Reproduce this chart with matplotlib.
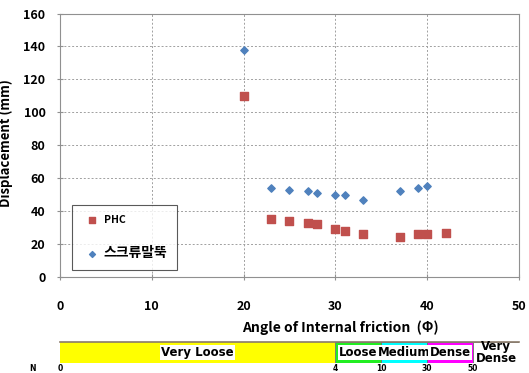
import matplotlib
matplotlib.use("Agg")
import matplotlib.pyplot as plt
from matplotlib.patches import Rectangle

plt.rcParams['font.family'] = ['Noto Sans CJK KR', 'DejaVu Sans']
plt.rcParams['font.weight'] = 'bold'

# friction angle vs lateral displacement
phi_phc = [20, 23, 25, 27, 28, 30, 31, 33, 37, 39, 40, 42]
disp_phc = [110, 35, 34, 33, 32, 29, 28, 26, 24, 26, 26, 27]
phi_screw = [20, 23, 25, 27, 28, 30, 31, 33, 37, 39, 40]
disp_screw = [138, 54, 53, 52, 51, 50, 50, 47, 52, 54, 55]

# relative density classes along the friction-angle axis
class_labels = ['Very Loose', 'Loose', 'Medium', 'Dense', 'Very\nDense']
class_bounds = [0, 30, 35, 40, 45, 50]
class_colors = ['#FFFF00', '#22EE22', '#00FFFF', '#FF00FF', '#FFFFFF']
n_values = ['0', '4', '10', '30', '50']

fig = plt.figure(figsize=(5.29, 3.73), dpi=100)
ax = fig.add_axes([0.1134, 0.2574, 0.8677, 0.7064])

ax.scatter(phi_phc, disp_phc, marker='s', s=28, color='#C0504D', label='PHC', zorder=3)
ax.scatter(phi_screw, disp_screw, marker='D', s=14, color='#4F81BD', label='스크류말뚝', zorder=3)

ax.set_xlim(0, 50)
ax.set_ylim(0, 160)
ax.set_xticks(range(0, 51, 10))
ax.set_yticks(range(0, 161, 20))
ax.grid(True, linestyle=(0, (2, 2)), color='#A0A0A0', linewidth=0.7)
for s in ax.spines.values():
    s.set_color('#909090')
ax.tick_params(axis='x', colors='#909090', labelcolor='black', labelsize=9, pad=14, direction='inout', length=5)
ax.tick_params(axis='y', colors='#909090', labelcolor='black', labelsize=9, pad=8, direction='inout', length=5)
ax.set_xlabel('Angle of Internal friction  (Φ)', fontsize=10, fontweight='bold')
ax.xaxis.set_label_coords(0.61, -0.165)
ax.set_ylabel('Displacement (mm)', fontsize=9.5, fontweight='bold')
ax.yaxis.set_label_coords(-0.102, 0.51)

leg = ax.legend(loc='lower left', bbox_to_anchor=(0.026, 0.027), fontsize=7.5,
                frameon=True, fancybox=False, edgecolor='#303030',
                labelspacing=2.0, borderpad=0.95, handletextpad=0.1,
                borderaxespad=0, handlelength=2.0, markerscale=0.8)
leg.get_frame().set_linewidth(0.8)
leg.texts[1].set_fontsize(10)

# density band below the chart
bx = fig.add_axes([0.1134, 0.0268, 0.8677, 0.0563])
bx.set_xlim(0, 50)
bx.set_ylim(0, 1)
bx.axis('off')
for i, lab in enumerate(class_labels):
    x0, x1 = class_bounds[i], class_bounds[i + 1]
    bx.add_patch(Rectangle((x0, 0), x1 - x0, 1, facecolor=class_colors[i],
                           edgecolor='#707070' if i else 'none', linewidth=0.6))
    cx = (x0 + x1) / 2
    if lab.startswith('Very\n'):
        bx.text(cx, 0.5, lab, ha='center', va='center', fontsize=8.5,
                family='DejaVu Sans', linespacing=0.9, clip_on=False)
    else:
        bx.text(cx, 0.5, lab, ha='center', va='center', fontsize=8.5,
                family='DejaVu Sans',
                bbox=dict(boxstyle='square,pad=0.1', facecolor='white', edgecolor='none'))
bx.plot([0, 50], [1, 1], color='#8a7a6a', linewidth=1.2, clip_on=False)

fig.text(0.062, 0.001, 'N', fontsize=5.5, family='DejaVu Sans', ha='center', va='bottom')
for b, n in zip(class_bounds[:5], n_values):
    xf = 0.1134 + 0.8677 * b / 50
    fig.text(xf, 0.001, n, fontsize=5.5, family='DejaVu Sans', ha='center', va='bottom')

fig.savefig('out.png', dpi=100)
